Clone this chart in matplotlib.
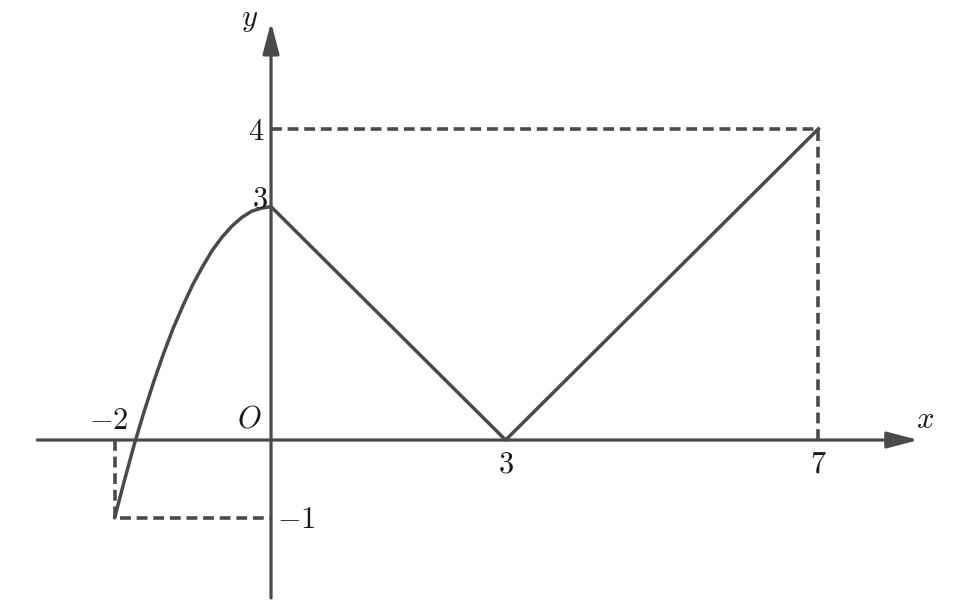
import matplotlib
matplotlib.use("Agg")
import matplotlib.pyplot as plt

plt.rcParams["mathtext.fontset"] = "cm"

# ---- data ----
curve_x = [-2, -1.875, -1.75, -1.625, -1.5, -1.375, -1.25, -1.125, -1,
           -0.875, -0.75, -0.625, -0.5, -0.375, -0.25, -0.125, 0]
curve_y = [-1, -0.52, -0.06, 0.36, 0.75, 1.11, 1.44, 1.73, 2,
           2.23, 2.44, 2.61, 2.75, 2.86, 2.94, 2.98, 3]
line_x = [0, 3, 7]
line_y = [3, 0, 4]

guide_left_x = [-2, -2, 0]
guide_left_y = [0, -1, -1]
guide_right_x = [0, 7, 7]
guide_right_y = [4, 4, 0]

x_ticks = [-2, 3, 7]
x_tick_labels = [r"$-2$", r"$3$", r"$7$"]
y_ticks = [4, 3, -1]
y_tick_labels = [r"$4$", r"$3$", r"$-1$"]

LINE_COLOR = "#4a4a4a"
TEXT_COLOR = "#1a1a1a"

fig = plt.figure(figsize=(9.64, 6.09), dpi=100)
ax = fig.add_axes([0, 0, 1, 1])
ax.set_xlim(-3.466, 8.862)
ax.set_ylim(-2.172, 5.656)
ax.axis("off")

# axes with arrows
arrow_style = "-|>,head_length=1.9,head_width=0.5"
ax.annotate("", xy=(8.28, 0), xytext=(-2.99, 0),
            arrowprops=dict(arrowstyle=arrow_style, lw=2.3,
                            color=LINE_COLOR, shrinkA=0, shrinkB=0,
                            mutation_scale=10))
ax.annotate("", xy=(0, 5.37), xytext=(0, -2.03),
            arrowprops=dict(arrowstyle=arrow_style, lw=2.3,
                            color=LINE_COLOR, shrinkA=0, shrinkB=0,
                            mutation_scale=10))

# dashed guides
for gx, gy in [(guide_left_x, guide_left_y), (guide_right_x, guide_right_y)]:
    ax.plot(gx, gy, color=LINE_COLOR, lw=2.6, dashes=(3.0, 1.6))

# graph
ax.plot(curve_x, curve_y, color=LINE_COLOR, lw=2.5, solid_capstyle="round")
ax.plot(line_x, line_y, color=LINE_COLOR, lw=2.5, solid_joinstyle="round")

# labels
fs = 22
ax.text(-2.08, 0.06, x_tick_labels[0], fontsize=fs, color=TEXT_COLOR,
        ha="center", va="bottom")
for xv, lab in zip(x_ticks[1:], x_tick_labels[1:]):
    ax.text(xv, -0.12, lab, fontsize=fs, color=TEXT_COLOR,
            ha="center", va="top")
ax.text(-0.09, 3.96, y_tick_labels[0], fontsize=fs, color=TEXT_COLOR,
        ha="right", va="center")
ax.text(-0.04, 3.1, y_tick_labels[1], fontsize=fs, color=TEXT_COLOR,
        ha="right", va="center")
ax.text(0.08, -1.02, y_tick_labels[2], fontsize=fs, color=TEXT_COLOR,
        ha="left", va="center")
ax.text(-0.12, 0.08, r"$O$", fontsize=fs, color=TEXT_COLOR,
        ha="right", va="bottom")
ax.text(-0.27, 5.41, r"$y$", fontsize=fs, color=TEXT_COLOR,
        ha="center", va="center")
ax.text(8.37, 0.08, r"$x$", fontsize=fs, color=TEXT_COLOR,
        ha="center", va="bottom")

fig.savefig("out.png", dpi=100)
